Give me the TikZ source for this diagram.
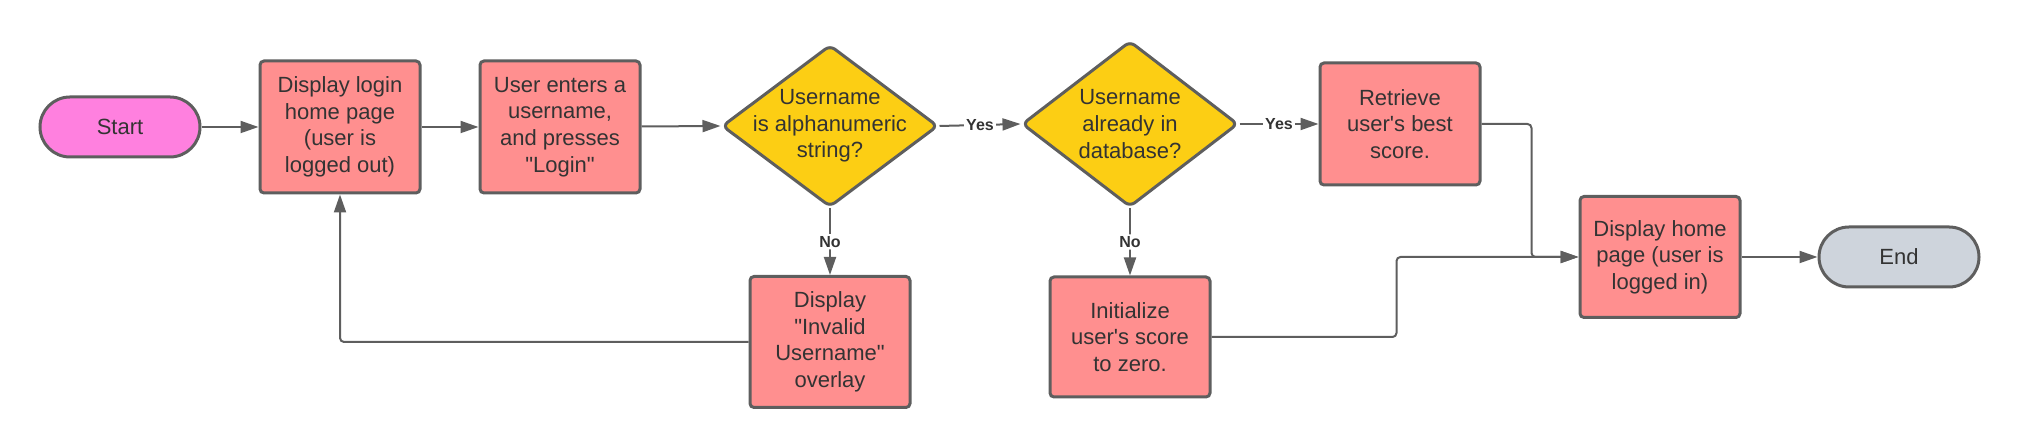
\documentclass[tikz,border=0pt]{standalone}
\usepackage{fontspec}
\setmainfont{Liberation Sans}
\usetikzlibrary{arrows.meta,shapes.geometric}
\definecolor{lineg}{HTML}{5E5E5E}
\definecolor{txtg}{HTML}{333333}
\definecolor{boxred}{HTML}{FF8F8F}
\definecolor{startpink}{HTML}{FF80DF}
\definecolor{endgrey}{HTML}{CED4DC}
\definecolor{askyellow}{HTML}{FCCE14}
\tikzset{
	process/.style={draw=lineg, line width=1.5pt, fill=boxred, rounded corners=2pt,
		minimum width=80pt, minimum height=66pt, inner sep=0pt, align=center,
		text=txtg, font=\fontsize{11pt}{13.3pt}\selectfont},
	terminal/.style={process, rounded corners=15pt, minimum height=30pt},
	decision/.style={diamond, draw=lineg, line width=1.5pt, fill=askyellow,
		rounded corners=3pt, minimum width=108pt, minimum height=81pt, inner sep=0pt},
	asktext/.style={align=center, text=txtg, font=\fontsize{11pt}{13.3pt}\selectfont},
	flow/.style={draw=lineg, line width=1pt, rounded corners=2pt,
		-{Triangle[length=9pt,width=6pt]}},
	answer/.style={fill=white, inner sep=1pt, text=txtg,
		font=\bfseries\fontsize{8pt}{9pt}\selectfont}
}
\begin{document}
\begin{tikzpicture}[x=0.5pt,y=0.5pt]
	\useasboundingbox (0,0) rectangle (2020,448);
	% top row
	\node [terminal, fill=startpink] (start) at (120,321) {Start};
	\node [process] (loginpage) at (340,321) {Display login\\home page\\(user is\\logged out)};
	\node [process] (enter) at (560,321) {User enters a\\username,\\and presses\\\textquotedbl Login\textquotedbl};
	\node [decision] (isalnum) at (830,322) {};
	\node [asktext] (isalnumtext) at (isalnum) {Username\\is alphanumeric\\string?};
	\node [decision, minimum height=83pt] (indb) at (1130,324) {};
	\node [asktext] (indbtext) at (indb) {Username\\already in\\database?};
	\node [process, minimum height=61pt] (retrieve) at (1400,324) {Retrieve\\user\textquotesingle s best\\score.};
	% bottom row
	\node [process, minimum height=65.5pt] (invalid) at (830,106) {Display\\\textquotedbl Invalid\\Username\textquotedbl\\overlay};
	\node [process, minimum height=60pt] (init) at (1130,111) {Initialize\\user\textquotesingle s score\\to zero.};
	\node [process, minimum height=60.5pt] (homepage) at (1660,191) {Display home\\page (user is\\logged in)};
	\node [terminal, fill=endgrey] (end) at (1899,191) {End};
	% connectors
	\draw [flow] (start) -- (loginpage);
	\draw [flow] (loginpage) -- (enter);
	\draw [flow] (enter) -- (isalnum.west);
	\draw [flow] (isalnum.east) -- node [answer] {Yes} (indb.west);
	\draw [flow] (indb.east) -- node [answer] {Yes} (retrieve.west);
	\draw [flow] (isalnum.south) -- node [answer] {No} (invalid.north);
	\draw [flow] (indb.south) -- node [answer] {No} (init.north);
	\draw [flow] (invalid.west) -| (loginpage.south);
	\draw [flow] (retrieve.east) -- ++(50,0) |- (homepage.west);
	\draw [flow] (init.east) -- ++(185,0) |- (homepage.west);
	\draw [flow] (homepage) -- (end);
\end{tikzpicture}
\end{document}
